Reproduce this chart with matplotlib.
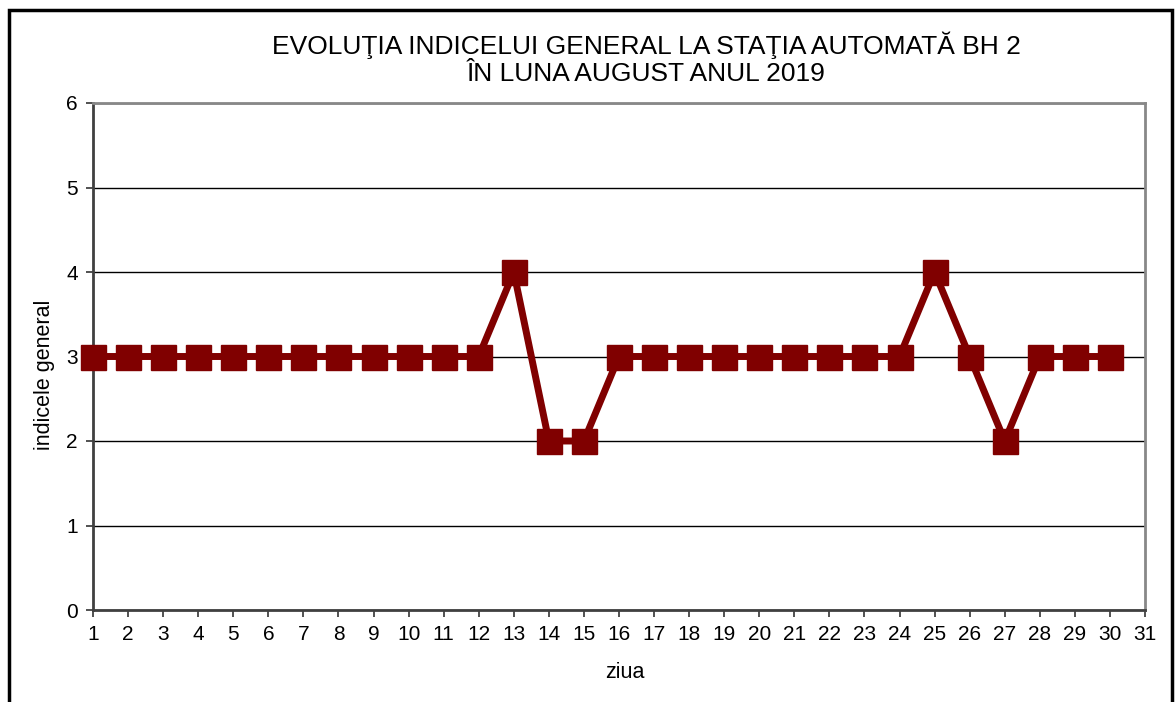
import matplotlib
matplotlib.use("Agg")
import matplotlib.pyplot as plt
from matplotlib.patches import Rectangle

days = list(range(1, 31))
values = [3, 3, 3, 3, 3, 3, 3, 3, 3, 3, 3, 3, 4, 2, 2, 3, 3, 3, 3, 3, 3, 3, 3, 3, 4, 3, 2, 3, 3, 3]
xticks = list(range(1, 32))
yticks = [0, 1, 2, 3, 4, 5, 6]
title_lines = ["EVOLUŢIA INDICELUI GENERAL LA STAŢIA AUTOMATĂ BH 2", "ÎN LUNA AUGUST ANUL 2019"]

plt.rcParams['font.family'] = ['Liberation Sans', 'DejaVu Sans']

W, H = 1175, 702
fig = plt.figure(figsize=(W/100, H/100), dpi=100)
ax = fig.add_axes([93/W, 92/H, (1145-93)/W, (610-103)/H])

ax.plot(days, values, color='#800000', linewidth=5, marker='s', markersize=18,
        clip_on=False, zorder=3)

ax.set_xlim(1, 31)
ax.set_ylim(0, 6)
ax.set_xticks(xticks)
ax.set_yticks(yticks)
ax.tick_params(axis='both', labelsize=15, length=5, width=1.2, color='#333333', pad=6)
ax.yaxis.grid(True, color='#000000', linewidth=1)
ax.set_axisbelow(True)
for s in ['left', 'bottom']:
    ax.spines[s].set_color('#404040')
    ax.spines[s].set_linewidth(2)
for s in ['top', 'right']:
    ax.spines[s].set_color('#888888')
    ax.spines[s].set_linewidth(2)

fig.text(646/W, 1 - 45/H, title_lines[0], ha='center', va='center', fontsize=19)
fig.text(646/W, 1 - 74/H, title_lines[1], ha='center', va='center', fontsize=19)
fig.text(45/W, 1 - 375/H, "indicele general", rotation=90, ha='center', va='center', fontsize=15.5)
fig.text(625/W, 1 - 673/H, "ziua", ha='center', va='center', fontsize=15.5)

fig.add_artist(Rectangle((9/W, -0.05), (1172-9)/W, 1 - 10/H + 0.05, transform=fig.transFigure,
                         fill=False, edgecolor='black', linewidth=2.5, clip_on=False))

fig.savefig("out.png", dpi=100)
